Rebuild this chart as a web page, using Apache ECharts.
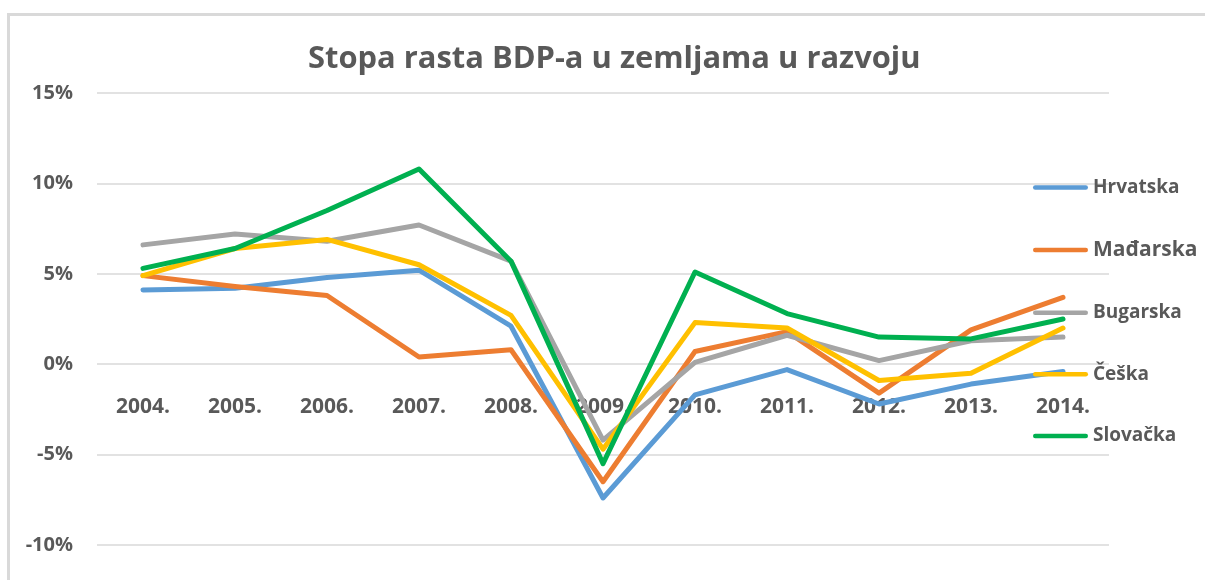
<!DOCTYPE html>
<html>
<head>
<meta charset="utf-8">
<script src="https://cdn.jsdelivr.net/npm/echarts@6/dist/echarts.min.js"></script>
<style>
    html, body { margin: 0; padding: 0; background: #ffffff; }
    #frame {
        position: absolute; left: 7px; top: 13px; width: 1300px; height: 700px;
        border-left: 3px solid #d9d9d9; border-top: 3px solid #d9d9d9;
    }
    #chart { position: absolute; left: 0; top: 0; width: 1205px; height: 580px; }
</style>
</head>
<body>
<div id="frame"></div>
<div id="chart"></div>
<script>
// Stopa rasta BDP-a (%)
const years = ['2004.', '2005.', '2006.', '2007.', '2008.', '2009.', '2010.', '2011.', '2012.', '2013.', '2014.'];
const hrvatska = [4.1, 4.2, 4.8, 5.2, 2.1, -7.4, -1.7, -0.3, -2.2, -1.1, -0.4];
const madarska = [4.9, 4.3, 3.8, 0.4, 0.8, -6.5, 0.7, 1.8, -1.6, 1.9, 3.7];
const bugarska = [6.6, 7.2, 6.8, 7.7, 5.7, -4.2, 0.1, 1.6, 0.2, 1.3, 1.5];
const ceska = [4.9, 6.4, 6.9, 5.5, 2.7, -4.7, 2.3, 2.0, -0.9, -0.5, 2.0];
const slovacka = [5.3, 6.4, 8.5, 10.8, 5.7, -5.5, 5.1, 2.8, 1.5, 1.4, 2.5];

const yTicks = { min: -10, max: 15, interval: 5 };

const seriesDefs = [
    { name: 'Hrvatska', data: hrvatska, color: '#5B9BD5' },
    { name: 'Mađarska', data: madarska, color: '#ED7D31' },
    { name: 'Bugarska', data: bugarska, color: '#A5A5A5' },
    { name: 'Češka', data: ceska, color: '#FFC000' },
    { name: 'Slovačka', data: slovacka, color: '#00B050' }
];

const chart = echarts.init(document.getElementById('chart'), null, { renderer: 'canvas' });
const font = '"Open Sans", sans-serif';

// grid edges: top = 15%, bottom = -10%
const gridTop = 93, gridBottom = 35, gridHeight = 580 - gridTop - gridBottom;
// move the category labels up to the 0% line
const zeroOffset = gridHeight * (0 - yTicks.min) / (yTicks.max - yTicks.min);

chart.setOption({
    backgroundColor: 'transparent',
    animation: false,
    title: {
        text: 'Stopa rasta BDP-a u zemljama u razvoju',
        left: 308,
        top: 44,
        padding: 0,
        textStyle: { fontFamily: font, fontSize: 30.9, fontWeight: 'bold', color: '#595959' }
    },
    legend: {
        orient: 'vertical',
        left: 1033,
        top: 178,
        padding: 0,
        itemWidth: 55,
        itemHeight: 22,
        itemGap: 42.6,
        icon: 'path://M2,0 L53,0 A2.25,2.25 0 0 1 53,4.5 L2,4.5 A2.25,2.25 0 0 1 2,0 Z',
        textStyle: {
            fontFamily: font, fontSize: 19, fontWeight: 'bold', color: '#595959',
            rich: { big: { fontFamily: font, fontSize: 21, fontWeight: 'bold', color: '#595959' } }
        },
        formatter: function (name) {
            return name === 'Mađarska' ? '{big|' + name + '}' : name;
        },
        data: seriesDefs.map(s => s.name)
    },
    grid: { left: 97, right: 96, top: gridTop, bottom: gridBottom, outerBoundsMode: 'none' },
    xAxis: {
        type: 'category',
        data: years,
        boundaryGap: true,
        offset: -zeroOffset,
        axisLine: { show: false, onZero: false },
        axisTick: { show: false },
        axisLabel: { fontFamily: font, fontSize: 21, fontWeight: 'bold', color: '#595959', margin: 32 }
    },
    yAxis: {
        type: 'value',
        min: yTicks.min,
        max: yTicks.max,
        interval: yTicks.interval,
        axisLine: { show: false },
        axisTick: { show: false },
        splitLine: { lineStyle: { color: '#d9d9d9', width: 1.5 } },
        axisLabel: {
            fontFamily: font, fontSize: 20, fontWeight: 'bold', color: '#595959', margin: 24,
            formatter: v => v + '%'
        }
    },
    series: seriesDefs.map(s => ({
        name: s.name,
        type: 'line',
        data: s.data,
        symbol: 'none',
        color: s.color,
        lineStyle: { color: s.color, width: 5, cap: 'round', join: 'round' },
        itemStyle: { color: s.color }
    }))
});
</script>
</body>
</html>
